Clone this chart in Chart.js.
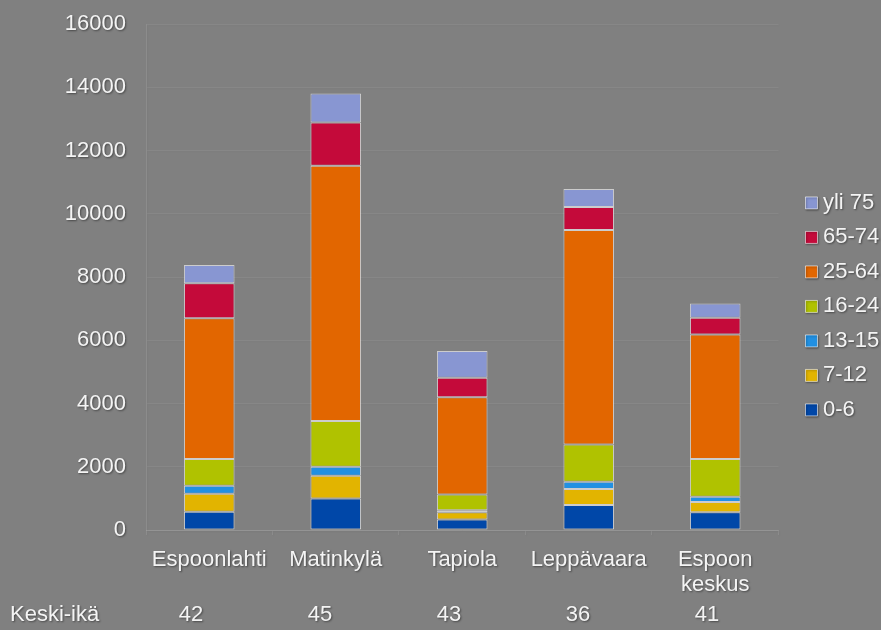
<!DOCTYPE html>
<html>
<head>
<meta charset="utf-8">
<script src="https://cdn.jsdelivr.net/npm/chart.js@4"></script>
<style>
	html, body { margin: 0; padding: 0; background: #808080; }
	#wrap { width: 881px; height: 630px; }
</style>
</head>
<body>
<div id="wrap"><canvas id="ageChart" width="881" height="630"></canvas></div>
<script>
const areas = ['Espoonlahti', 'Matinkylä', 'Tapiola', 'Leppävaara', ['Espoon', 'keskus']];
const ageGroups = ['0-6', '7-12', '13-15', '16-24', '25-64', '65-74', 'yli 75'];
const age0to6 = [580, 1000, 330, 790, 560];
const age7to12 = [570, 715, 230, 505, 325];
const age13to15 = [250, 285, 65, 230, 170];
const age16to24 = [845, 1445, 500, 1180, 1190];
const age25to64 = [4450, 8070, 3070, 6780, 3940];
const age65to74 = [1105, 1370, 620, 725, 525];
const ageOver75 = [580, 920, 845, 570, 455];
const medianAge = [42, 45, 43, 36, 41];
const medianAgeLabel = 'Keski-ikä';
const yTicks = [0, 2000, 4000, 6000, 8000, 10000, 12000, 14000, 16000];

const seriesValues = [age0to6, age7to12, age13to15, age16to24, age25to64, age65to74, ageOver75];
const seriesColors = ['#0047a8', '#e2b400', '#2190e2', '#b0c200', '#e26600', '#c40a3a', '#8896d2'];

const textColor = '#f4f4f4';
const fontFamily = '"Liberation Sans", Arial, sans-serif';

// text shadow for labels, none for the bars
const shadowPlugin = {
	id: 'textShadow',
	afterLayout(chart) {
		// legend sits a little further right than chart.js puts it
		chart.legend.left += 20;
		chart.legend.right += 20;
	},
	beforeDraw(chart) {
		const ctx = chart.ctx;
		ctx.shadowColor = 'rgba(0,0,0,0.45)';
		ctx.shadowBlur = 2;
		ctx.shadowOffsetX = 1;
		ctx.shadowOffsetY = 1;
	},
	beforeDatasetsDraw(chart) {
		chart.ctx.shadowColor = 'rgba(0,0,0,0)';
	},
	afterDatasetsDraw(chart) {
		chart.ctx.shadowColor = 'rgba(0,0,0,0.45)';
	},
	afterDraw(chart) {
		const ctx = chart.ctx;
		ctx.save();
		ctx.font = '22px ' + fontFamily;
		ctx.fillStyle = textColor;
		ctx.textBaseline = 'middle';
		ctx.textAlign = 'left';
		ctx.fillText(medianAgeLabel, 10, 615);
		ctx.textAlign = 'center';
		medianAge.forEach((v, i) => {
			ctx.fillText(String(v), 191 + i * 129, 615);
		});
		ctx.restore();
		ctx.shadowColor = 'rgba(0,0,0,0)';
	},
};

new Chart(document.getElementById('ageChart'), {
	type: 'bar',
	data: {
		labels: areas,
		datasets: ageGroups.map((g, i) => ({
			label: g,
			data: seriesValues[i],
			backgroundColor: seriesColors[i],
			borderColor: 'rgba(255,255,255,0.6)',
			borderWidth: 1,
			borderSkipped: false,
			barPercentage: 0.4,
			categoryPercentage: 1,
		})),
	},
	plugins: [shadowPlugin],
	options: {
		responsive: false,
		animation: false,
		layout: { padding: { top: 24, right: 11.75, bottom: 0, left: 0 } },
		plugins: {
			legend: {
				position: 'right',
				align: 'start',
				reverse: true,
				title: { display: true, text: ' ', padding: { top: 141, bottom: 0 }, font: { size: 12 } },
				labels: {
					usePointStyle: true,
					pointStyle: 'rect',
					boxWidth: 1,
					boxHeight: 12,
					padding: 12.5,
					color: textColor,
					font: { size: 22, family: fontFamily },
				},
			},
			tooltip: { enabled: false },
		},
		scales: {
			x: {
				stacked: true,
				afterFit: (s) => { s.height = 100; },
				grid: { display: true, drawOnChartArea: false, drawTicks: true, tickLength: 5, offset: true, color: 'rgba(255,255,255,0.1)' },
				border: { color: 'rgba(255,255,255,0.12)' },
				ticks: {
					color: textColor,
					padding: 12,
					font: { size: 22, family: fontFamily, lineHeight: 1.15 },
					maxRotation: 0,
					autoSkip: false,
				},
			},
			y: {
				stacked: true,
				min: 0,
				max: 16000,
				afterFit: (s) => { s.width = 146; },
				afterBuildTicks: (s) => { s.ticks = yTicks.map((v) => ({ value: v })); },
				grid: { color: 'rgba(255,255,255,0.06)', drawTicks: true, tickLength: 18, tickColor: 'rgba(0,0,0,0)' },
				border: { color: 'rgba(255,255,255,0.1)' },
				ticks: {
					color: textColor,
					padding: 2,
					font: { size: 22, family: fontFamily },
					callback: (v) => String(v),
				},
			},
		},
	},
});
</script>
</body>
</html>
